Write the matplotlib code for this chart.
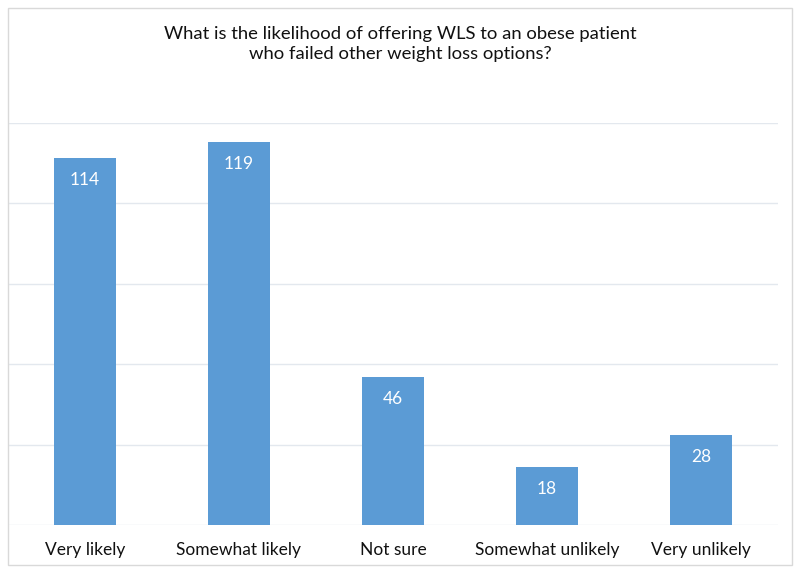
import matplotlib
matplotlib.use("Agg")
import matplotlib.pyplot as plt
from matplotlib.patches import Rectangle

categories = ["Very likely", "Somewhat likely", "Not sure", "Somewhat unlikely", "Very unlikely"]
values = [114, 119, 46, 18, 28]
title = "What is the likelihood of offering WLS to an obese patient\nwho failed other weight loss options?"

plt.rcParams['font.family'] = ['Lato', 'DejaVu Sans']

fig = plt.figure(figsize=(8, 5.74), dpi=100)
fig.patches.append(Rectangle((8/800, 1-565/574), 784/800, 557/574, transform=fig.transFigure,
                             fill=False, edgecolor="#d9d9d9", linewidth=1))
ax = fig.add_axes([8/800, 1-525/574, 770/800, 402/574])
x = range(len(categories))
bars = ax.bar(x, values, width=0.40, color="#5b9bd5", zorder=3)
ax.set_xlim(-0.5, len(categories) - 0.5)
ax.set_ylim(0, 125)
ax.set_yticks([0, 25, 50, 75, 100, 125])
ax.yaxis.grid(True, color="#e3e8ee", linewidth=1, zorder=0)
ax.tick_params(axis='y', left=False, labelleft=False)
ax.tick_params(axis='x', bottom=False, labelsize=12.5, pad=9, colors="#111111")
ax.set_xticks(list(x))
ax.set_xticklabels(categories)
for s in ax.spines.values():
    s.set_visible(False)
for b, v in zip(bars, values):
    ax.annotate(str(v), (b.get_x() + b.get_width()/2, v), xytext=(0, -10), textcoords="offset points",
                ha="center", va="top", color="white", fontsize=12.5, zorder=4)
fig.text(0.5, 1-44/574, title, ha="center", va="center", fontsize=13.3, color="#111111", linespacing=1.3)
fig.savefig("out.png", dpi=100)
